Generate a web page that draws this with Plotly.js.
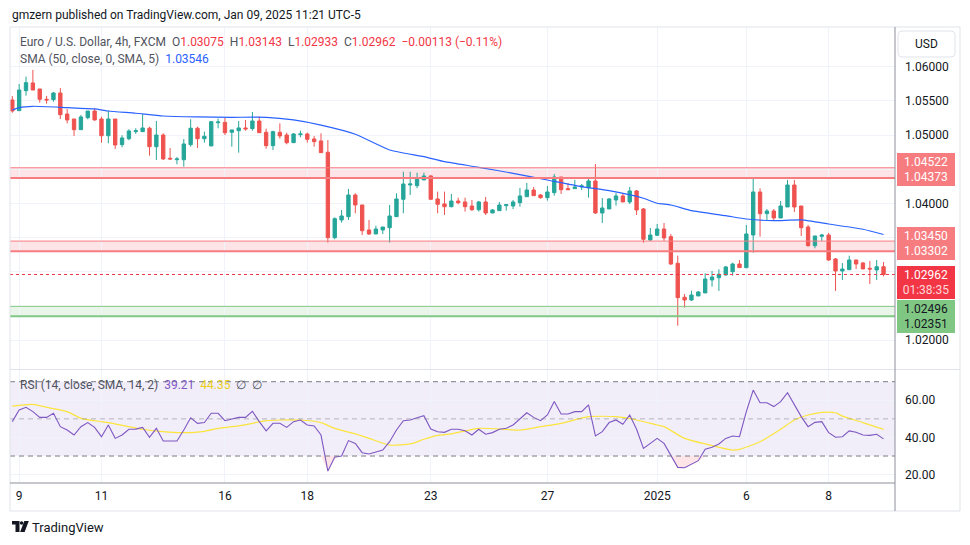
<!DOCTYPE html>
<html><head><meta charset="utf-8">
<script src="https://cdn.plot.ly/plotly-3.0.1.min.js"></script>
<style>html,body{margin:0;padding:0;background:#fff;}#chart{width:970px;height:545px;}</style>
</head><body><div id="chart"></div>
<script>
// ---------- DATA ----------
const opens = [1.05513,1.05357,1.05649,1.05762,1.05674,1.05523,1.05518,1.05615,1.05308,1.05235,
1.05079,1.05254,1.05352,1.05235,1.04991,1.05235,1.0486,1.04947,1.0505,1.0505,
1.051,1.0483,1.05001,1.04661,1.0464,1.0464,1.0486,1.051,1.04947,1.04841,
1.05181,1.05186,1.05041,1.05064,1.05104,1.05094,1.05206,1.05041,1.04845,1.05041,
1.05001,1.04889,1.05006,1.05016,1.04943,1.04914,1.04749,1.035,1.03759,1.03807,
1.04124,1.03978,1.03613,1.03554,1.03613,1.03646,1.03807,1.04061,1.0427,1.0426,
1.04344,1.04402,1.04066,1.03993,1.03953,1.04036,1.04022,1.03963,1.03909,1.04022,
1.03861,1.03895,1.03968,1.03963,1.04012,1.04099,1.04197,1.04124,1.04085,1.04158,
1.04387,1.04217,1.04217,1.04241,1.04231,1.04329,1.03861,1.0392,1.04051,1.0411,
1.04022,1.04183,1.0392,1.03466,1.03535,1.03627,1.03515,1.03126,1.02629,1.02589,
1.02648,1.02692,1.02882,1.02915,1.02955,1.03003,1.03115,1.03061,1.03539,1.04168,
1.03851,1.0389,1.03788,1.03949,1.0427,1.03963,1.03656,1.03383,1.0352,1.03539,
1.03189,1.03013,1.03032,1.03174,1.0313,1.03052,1.03028,1.03075];
const highs = [1.05572,1.05747,1.05854,1.05952,1.05674,1.05572,1.0563,1.05689,1.05382,1.05235,
1.05294,1.05352,1.05392,1.05269,1.05357,1.05235,1.04997,1.05085,1.051,1.05308,
1.05123,1.05206,1.05026,1.04811,1.0468,1.04943,1.05231,1.05123,1.0505,1.05206,
1.0524,1.0525,1.05075,1.05206,1.05221,1.05338,1.05269,1.05094,1.05064,1.05172,
1.05035,1.0503,1.05064,1.05035,1.04987,1.05026,1.04928,1.03798,1.03905,1.04212,
1.04149,1.03978,1.03759,1.03675,1.03656,1.03978,1.04149,1.04465,1.04465,1.0445,
1.0445,1.04417,1.04173,1.04173,1.04139,1.04085,1.04085,1.04051,1.04036,1.04095,
1.03919,1.04022,1.03993,1.04051,1.04227,1.043,1.04241,1.04139,1.04256,1.04431,
1.04387,1.043,1.04344,1.04285,1.04387,1.04577,1.0408,1.0408,1.04153,1.04139,
1.04241,1.04197,1.03934,1.03642,1.037,1.03715,1.03554,1.03237,1.02677,1.02725,
1.0272,1.0298,1.03013,1.03038,1.03087,1.03134,1.03174,1.03686,1.04358,1.04222,
1.03919,1.03919,1.04036,1.04344,1.04344,1.03963,1.03686,1.03525,1.03554,1.03569,
1.03203,1.0313,1.03237,1.03174,1.03145,1.0316,1.03174,1.03143];
const lows = [1.05327,1.05357,1.05576,1.05659,1.05474,1.05459,1.05488,1.05235,1.05172,1.04987,
1.05079,1.05231,1.05211,1.04889,1.0488,1.04797,1.04822,1.04924,1.05016,1.0505,
1.04699,1.04636,1.04636,1.04636,1.04573,1.04538,1.0483,1.04811,1.04889,1.04841,
1.051,1.05001,1.0483,1.04743,1.05064,1.05064,1.05035,1.04801,1.04782,1.04947,
1.04865,1.04889,1.04968,1.04889,1.0483,1.04743,1.03427,1.03477,1.03719,1.03759,
1.03857,1.03539,1.03539,1.03554,1.03554,1.03427,1.03807,1.03857,1.04124,1.04222,
1.04344,1.04061,1.03857,1.03832,1.03944,1.03988,1.0388,1.0389,1.0388,1.03832,
1.03861,1.03895,1.03895,1.03919,1.03953,1.04099,1.04114,1.0407,1.04041,1.04114,
1.04139,1.04202,1.04217,1.04197,1.04085,1.03847,1.03715,1.0392,1.03968,1.04022,
1.03993,1.03832,1.03427,1.03452,1.03525,1.03452,1.03101,1.02213,1.02477,1.02575,
1.02648,1.02692,1.02784,1.02721,1.02945,1.02945,1.03062,1.03061,1.0328,1.03515,
1.03759,1.03759,1.03788,1.03949,1.03876,1.03525,1.03368,1.03345,1.03452,1.0316,
1.02721,1.02882,1.03032,1.03042,1.03042,1.02823,1.02882,1.02933];
const closes = [1.05352,1.05659,1.05766,1.05659,1.05523,1.05513,1.05615,1.05298,1.05221,1.05079,
1.05265,1.05352,1.05221,1.04991,1.05235,1.04855,1.04958,1.0506,1.05064,1.05104,
1.0483,1.05001,1.04651,1.04651,1.04651,1.0487,1.051,1.04947,1.04982,1.05196,
1.05191,1.05035,1.05075,1.05104,1.0509,1.05206,1.05035,1.04845,1.0505,1.04987,
1.04889,1.05016,1.05016,1.04938,1.04904,1.04743,1.035,1.03778,1.03817,1.04124,
1.03978,1.03602,1.03554,1.03627,1.03656,1.03817,1.04066,1.04285,1.04285,1.04358,
1.04402,1.04061,1.03988,1.03953,1.04036,1.04012,1.03953,1.03909,1.04022,1.03861,
1.03905,1.03978,1.03983,1.04022,1.0411,1.04197,1.04114,1.04085,1.04168,1.04387,
1.04202,1.04202,1.04241,1.04256,1.04329,1.03861,1.03934,1.04066,1.0411,1.04022,
1.04183,1.03905,1.03477,1.03539,1.03627,1.03496,1.03115,1.02623,1.02589,1.02662,
1.02706,1.02896,1.02925,1.02965,1.03072,1.03115,1.03062,1.03554,1.04168,1.03851,
1.0389,1.03788,1.03963,1.0427,1.03949,1.03646,1.03383,1.03525,1.03539,1.03174,
1.03013,1.03042,1.03174,1.03115,1.03042,1.03042,1.03075,1.02962];

const smaIdx = [0,1,3,8,12,14,18,22,27,32,37,41,45,50,55,60,63,68,73,78,83,87,92,94,96,99,104,107,111,115,119,124,127];
const smaVal = [1.05367,1.05401,1.05421,1.05401,1.05382,1.05352,1.05319,1.05279,1.05265,1.0526,1.0526,1.05221,1.05145,1.05012,1.04782,1.04684,1.04611,1.04529,1.04441,1.04343,1.04246,1.04187,1.04076,1.04003,1.03978,1.03895,1.03822,1.03773,1.03749,1.03759,1.037,1.03623,1.03546];

const rsiValues = [48.5,54.8,56.2,53.9,50.8,50.8,53.0,45.8,44.0,41.3,
45.8,48.0,45.4,40.4,46.7,39.5,41.3,44.4,44.5,45.4,
40.1,44.9,38.1,38.1,38.1,44.0,50.6,47.6,48.0,53.0,
53.0,49.0,49.75,50.8,50.8,54.1,48.5,43.5,47.6,47.6,
45.4,48.5,49.4,46.7,46.2,41.3,21.9,29.3,30.0,38.3,
36.8,31.8,31.1,32.3,33.2,37.7,44.0,49.0,49.4,50.6,
51.7,44.5,43.1,42.75,44.4,
44.4,43.6,41.3,44.4,41.7,42.6,44.4,44.9,46.7,49.75,
53.3,50.8,49.0,52.1,59.3,52.6,52.6,53.9,53.9,57.5,
40.8,43.1,48.0,49.4,47.1,52.1,44.4,34.1,36.8,39.5,
36.8,30.0,23.9,23.7,25.7,27.5,33.6,34.7,36.5,39.5,
40.8,40.4,53.9,65.5,58.7,58.7,56.6,59.3,64.1,57.5,
51.2,45.8,48.1,48.5,42.6,40.1,40.4,43.5,42.75,41.3,
41.1,41.7,39.21];

const rsiSmaIdx = [0,3,5,8,10,13,14,17,19,22,25,28,30,33,37,39,42,45,47,50,52,55,58,60,62,64,68,74,77,80,84,88,91,94,95,98,101,105,106,109,112,114,116,118,120,121,124,127];
const rsiSmaVal = [56.9,57.8,56.2,53.9,50.3,48.5,48.0,45.8,44.4,43.1,42.6,43.3,44.9,46.2,49.0,49.4,49.4,48.0,44.9,41.9,39.5,35.9,36.5,39.0,41.1,41.9,44.9,44.0,45.8,47.6,51.2,51.2,49.4,46.7,45.8,39.5,36.5,33.2,33.6,37.7,44.4,49.4,52.1,53.5,53.3,51.5,48.0,44.35];

const tickIdx = [1,13,31,43,61,78,94,107,119];
const tickLabels = ['9','11','16','18','23','27','2025','6','8'];
const priceTicks = [1.02,1.025,1.03,1.035,1.04,1.045,1.05,1.055,1.06];
const priceTickText = ['1.02000','','','','1.04000','','1.05000','1.05500','1.06000'];
const rsiTicks = [20,40,60];
const rsiTickText = ['20.00','40.00','60.00'];
const zoneRed1 = [1.04522,1.04373];
const zoneRed2 = [1.03450,1.03302];
const zoneGreen = [1.02496,1.02351];
const rsiLevels = [70,50,30];
const countdown = '01:38:35';

// ---------- LAYOUT HELPERS ----------
const L=10,R=895,T=27,B=483;
const px=v=>(v-L)/(R-L), py=v=>(B-v)/(B-T);
const xs = closes.map((_,i)=>i);
const last = closes.length-1;
const FONT = 'Roboto, "Noto Sans", sans-serif';
const RED='#f23645', GREEN='#26a69a', RED_C='#ef5350';
const f5 = v=>v.toFixed(5);
const change = closes[last]-closes[last-1];
const changePct = change/closes[last-1]*100;
const signed = (v,d)=>(v<0?'\u2212':'')+Math.abs(v).toFixed(d);

const traces = [
 {type:'candlestick', x:xs, open:opens, high:highs, low:lows, close:closes, xaxis:'x', yaxis:'y',
  increasing:{line:{color:GREEN,width:1},fillcolor:GREEN},
  decreasing:{line:{color:RED_C,width:1},fillcolor:RED_C},
  whiskerwidth:0, hoverinfo:'skip', showlegend:false},
 {type:'scatter', mode:'lines', x:smaIdx, y:smaVal, xaxis:'x', yaxis:'y',
  line:{color:'#2962ff',width:1.2,shape:'spline',smoothing:0.5}, hoverinfo:'skip', showlegend:false},
 {type:'scatter', mode:'lines', x:xs, y:xs.map(()=>30), xaxis:'x2', yaxis:'y2',
  line:{width:0,color:'rgba(0,0,0,0)'}, hoverinfo:'skip', showlegend:false},
 {type:'scatter', mode:'lines', x:xs, y:rsiValues.map(v=>Math.min(v,30)), xaxis:'x2', yaxis:'y2',
  fill:'tonexty', fillcolor:'rgba(242,54,69,0.13)', line:{width:0,color:'rgba(0,0,0,0)'}, hoverinfo:'skip', showlegend:false},
 {type:'scatter', mode:'lines', x:rsiSmaIdx, y:rsiSmaVal, xaxis:'x2', yaxis:'y2',
  line:{color:'#fbe43c',width:1.2,shape:'spline',smoothing:0.6}, hoverinfo:'skip', showlegend:false},
 {type:'scatter', mode:'lines', x:xs, y:rsiValues, xaxis:'x2', yaxis:'y2',
  line:{color:'#7e57c2',width:1.1}, hoverinfo:'skip', showlegend:false}
];

function rr(x0,y0,x1,y1,r){
  const P=(x,y)=>px(x)+','+py(y);
  return 'M'+P(x0+r,y0)+' L'+P(x1-r,y0)+' Q'+P(x1,y0)+' '+P(x1,y0+r)+' L'+P(x1,y1-r)+' Q'+P(x1,y1)+' '+P(x1-r,y1)+
   ' L'+P(x0+r,y1)+' Q'+P(x0,y1)+' '+P(x0,y1-r)+' L'+P(x0,y0+r)+' Q'+P(x0,y0)+' '+P(x0+r,y0)+' Z';
}
function poly(pts){ return 'M'+pts.map(p=>px(p[0])+','+py(p[1])).join(' L')+' Z'; }

const shapes = [];
function zone(z, fill, lc){
  shapes.push({type:'rect', xref:'paper', x0:0, x1:1, yref:'y', y0:z[1], y1:z[0], fillcolor:fill, line:{width:0}, layer:'below'});
  shapes.push({type:'line', xref:'paper', x0:0, x1:1, yref:'y', y0:z[0], y1:z[0], line:{color:lc,width:1}});
  shapes.push({type:'line', xref:'paper', x0:0, x1:1, yref:'y', y0:z[1], y1:z[1], line:{color:lc,width:2}});
}
zone(zoneRed1,'rgba(242,54,69,0.13)','#f77c80');
zone(zoneRed2,'rgba(242,54,69,0.13)','#f77c80');
zone(zoneGreen,'rgba(76,175,80,0.13)','#81c784');
shapes.push({type:'line', xref:'paper', x0:0, x1:1, yref:'y', y0:closes[last], y1:closes[last], line:{color:RED,width:1,dash:'dot'}});
// RSI band + levels
shapes.push({type:'rect', xref:'paper', x0:0, x1:1, yref:'y2', y0:rsiLevels[2], y1:rsiLevels[0], fillcolor:'rgba(126,87,194,0.1)', line:{width:0}, layer:'below'});
rsiLevels.forEach((lv,i)=>shapes.push({type:'line', xref:'paper', x0:0, x1:1, yref:'y2', y0:lv, y1:lv,
  line:{color: i===1?'rgba(120,123,134,0.5)':'#787b86', width:1, dash:'5px,4px'}}));
// frame & separators
shapes.push({type:'rect', xref:'paper', yref:'paper', x0:px(10), x1:px(960), y0:py(511), y1:py(27), line:{color:'#e0e3eb',width:1}});
shapes.push({type:'line', xref:'paper', yref:'paper', x0:0, x1:px(960), y0:py(369.5), y1:py(369.5), line:{color:'#e0e3eb',width:1}});
shapes.push({type:'line', xref:'paper', yref:'paper', x0:1, x1:1, y0:py(511), y1:py(27), line:{color:'#8d909a',width:1}});
shapes.push({type:'line', xref:'paper', yref:'paper', x0:0, x1:1, y0:0, y1:0, line:{color:'#8d909a',width:1}});
// USD box
shapes.push({type:'path', xref:'paper', yref:'paper', path:rr(898,31,955,57,4), line:{color:'#e0e3eb',width:1}, fillcolor:'#ffffff'});
// TradingView logo
shapes.push({type:'path', xref:'paper', yref:'paper', path:poly([[12,521],[19.5,521],[19.5,532],[15.5,532],[15.5,524.5],[12,524.5]]), line:{width:0}, fillcolor:'#131722'});
shapes.push({type:'circle', xref:'paper', yref:'paper', x0:px(19.8), x1:px(23.4), y0:py(524.8), y1:py(521.2), line:{width:0}, fillcolor:'#131722'});
shapes.push({type:'path', xref:'paper', yref:'paper', path:poly([[24.3,521],[28.8,521],[24.6,532],[20.1,532]]), line:{width:0}, fillcolor:'#131722'});

const sp = (c,t)=>'<span style="color:'+c+'">'+t+'</span>';
const NB='\u00a0\u00a0';
const legend1 = 'Euro / U.S. Dollar, 4h, FXCM'+NB+'O'+sp(RED,f5(opens[last]))+NB+'H'+sp(RED,f5(highs[last]))+NB+
  'L'+sp(RED,f5(lows[last]))+NB+'C'+sp(RED,f5(closes[last]))+NB+
  sp(RED, signed(change,5)+' ('+signed(changePct,2)+'%)');
const legend2 = 'SMA (50, close, 0, SMA, 5)'+NB+sp('#2962ff',f5(smaVal[smaVal.length-1]));
const legend3 = 'RSI (14, close, SMA, 14, 2)'+NB+sp('#7e57c2',rsiValues[last].toFixed(2))+NB+sp('#e8cf1c',rsiSmaVal[rsiSmaVal.length-1].toFixed(2))+NB+'\u2205'+NB+'\u2205';

const ann = (o)=>Object.assign({showarrow:false, xref:'paper', yref:'paper', xanchor:'left', yanchor:'middle', font:{family:FONT,size:12,color:'#131722'}},o);
const annotations = [
 ann({x:px(10), y:py(15), text:'gmzern published on TradingView.com, Jan 09, 2025 11:21 UTC-5', font:{family:FONT,size:12,color:'#131722'}}),
 ann({x:px(18), y:py(42), text:legend1, font:{family:FONT,size:12,color:'#50535e'}}),
 ann({x:px(18), y:py(59), text:legend2, font:{family:FONT,size:12,color:'#50535e'}}),
 ann({x:px(18), y:py(385), text:legend3, font:{family:FONT,size:12,color:'#50535e'}}),
 ann({x:px(926.5), y:py(44), xanchor:'center', text:'USD', font:{family:FONT,size:12,color:'#131722'}}),
 ann({x:px(30), y:py(527), text:'TradingView', font:{family:FONT,size:13,color:'#131722'}}),
];
function priceBox(vals, bg, fc, shift, extra){
  const y = vals.reduce((a,b)=>a+b,0)/vals.length;
  annotations.push({showarrow:false, xref:'paper', x:1.002, xanchor:'left', yref:'y', y:y, yanchor:'middle', yshift:shift,
    text: vals.map(f5).join('<br>') + (extra||''), bgcolor:bg, font:{family:FONT,size:12,color:fc},
    width:56, height:31, borderpad:1, borderwidth:0, align:'center'});
}
priceBox(zoneRed1,'#f77c80','#ffffff',3);
priceBox(zoneRed2,'#f77c80','#ffffff',3);
priceBox([closes[last]],RED,'#ffffff',-8,'<br><span style="color:#ffd6d9">'+countdown+'</span>');
priceBox(zoneGreen,'#81c784','#131722',-5);

const rangeX = [-0.335, 128.67];
const layout = {
 width:970, height:545, margin:{l:L,r:970-R,t:T,b:545-B}, paper_bgcolor:'#ffffff', plot_bgcolor:'#ffffff',
 font:{family:FONT,size:12,color:'#131722'}, showlegend:false, dragmode:false,
 xaxis:{domain:[0,1], range:rangeX, anchor:'y', tickvals:tickIdx, showticklabels:false, showgrid:true, gridcolor:'#f0f3fa',
   zeroline:false, rangeslider:{visible:false}, fixedrange:true, showline:false, ticks:''},
 xaxis2:{domain:[0,1], range:rangeX, anchor:'y2', tickvals:tickIdx, ticktext:tickLabels, showgrid:true, gridcolor:'#f0f3fa',
   zeroline:false, fixedrange:true, showline:false, ticks:'', tickfont:{family:FONT,size:12,color:'#131722'}, ticklabelstandoff:4},
 yaxis:{domain:[py(369),1], range:[1.0158,1.0658], anchor:'x', side:'right', tickvals:priceTicks, ticktext:priceTickText,
   showgrid:true, gridcolor:'#f0f3fa', zeroline:false, fixedrange:true, ticks:'', tickfont:{family:FONT,size:12,color:'#131722'}, ticklabelstandoff:9},
 yaxis2:{domain:[0,py(370)], range:[15.48,76.3], anchor:'x2', side:'right', tickvals:rsiTicks, ticktext:rsiTickText,
   showgrid:true, gridcolor:'#f0f3fa', zeroline:false, fixedrange:true, ticks:'', tickfont:{family:FONT,size:12,color:'#131722'}, ticklabelstandoff:9},
 shapes:shapes, annotations:annotations
};
Plotly.newPlot('chart', traces, layout, {displayModeBar:false, staticPlot:true});
</script></body></html>
